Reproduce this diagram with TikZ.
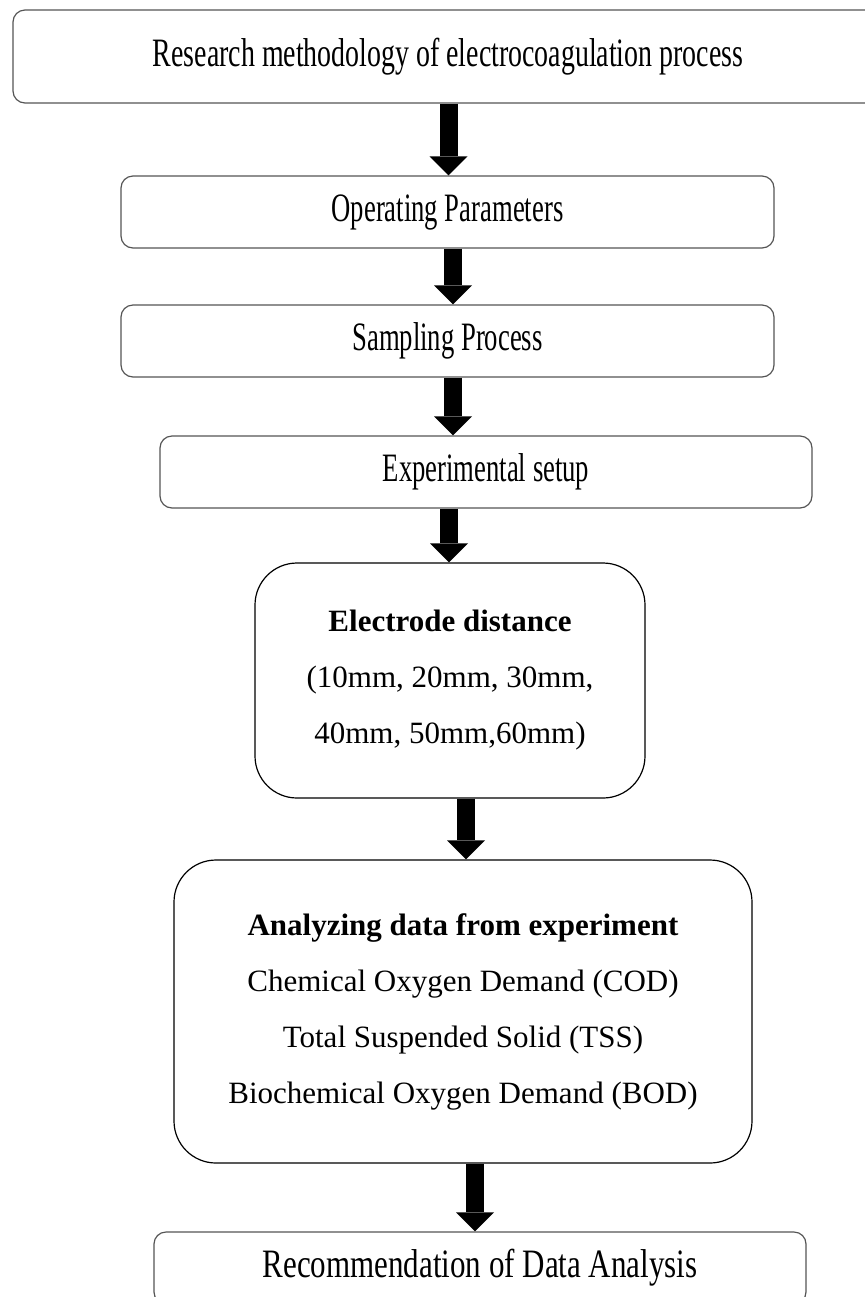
\documentclass[tikz,border=0pt]{standalone}
\usepackage{graphicx}
\usepackage{fontspec}
\setmainfont{Liberation Serif}
\usetikzlibrary{arrows.meta}
\definecolor{boxline}{HTML}{555555}
% the single-line stage labels are set taller (and a bit narrower) than the rest
\newcommand{\tallstage}[2][0.86]{\scalebox{#1}[1.3]{#2}}
\tikzset{
  stage/.style={draw=boxline, line width=0.6pt, rounded corners=6pt,
    minimum height=36pt, inner sep=0pt, align=center,
    font=\fontsize{15.5}{28}\selectfont},
  bigstage/.style={stage, draw=black, rounded corners=21pt},
  flow/.style={line width=9pt, -{Triangle[width=19pt, length=9.5pt, line width=0pt]}}
}

\begin{document}
\begin{tikzpicture}[x=0.5pt, y=-0.5pt]
    \useasboundingbox (0,0) rectangle (865,1297);

    % stages, top to bottom
    \node[stage, minimum width=435pt, minimum height=46.5pt] (top) at (448,56.5)
        {\tallstage[0.9]{Research methodology of electrocoagulation process}};
    \node[stage, minimum width=326.5pt] (params) at (447.5,212)
        {\tallstage{Operating Parameters}};
    \node[stage, minimum width=326.5pt] (sampling) at (447.5,341)
        {\tallstage{Sampling Process}};
    \node[stage, minimum width=326pt] (setup) at (486,472)
        {\tallstage{Experimental setup}};
    \node[bigstage, minimum width=195pt, minimum height=117.5pt] (distance) at (450,680.5)
        {\textbf{Electrode distance}\\(10mm, 20mm, 30mm,\\40mm, 50mm,60mm)};
    \node[bigstage, minimum width=289pt, minimum height=151.5pt] (analysis) at (463,1011.5)
        {\textbf{Analyzing data from experiment}\\Chemical Oxygen Demand (COD)\\
         Total Suspended Solid (TSS)\\Biochemical Oxygen Demand (BOD)};
    \node[stage, minimum width=326pt] (recommend) at (480,1268)
        {\tallstage[1]{Recommendation of Data Analysis}};

    % block arrows between stages
    \coordinate (a1) at (448.5,0);
    \coordinate (a2) at (453,0);
    \coordinate (a3) at (453,0);
    \coordinate (a4) at (449,0);
    \coordinate (a5) at (466,0);
    \coordinate (a6) at (475,0);
    \draw[flow] (top.south -| a1) -- (params.north -| a1);
    \draw[flow] (params.south -| a2) -- (sampling.north -| a2);
    \draw[flow] (sampling.south -| a3) -- (setup.north -| a3);
    \draw[flow] (setup.south -| a4) -- (distance.north -| a4);
    \draw[flow] (distance.south -| a5) -- (analysis.north -| a5);
    \draw[flow] (analysis.south -| a6) -- (recommend.north -| a6);
\end{tikzpicture}
\end{document}
